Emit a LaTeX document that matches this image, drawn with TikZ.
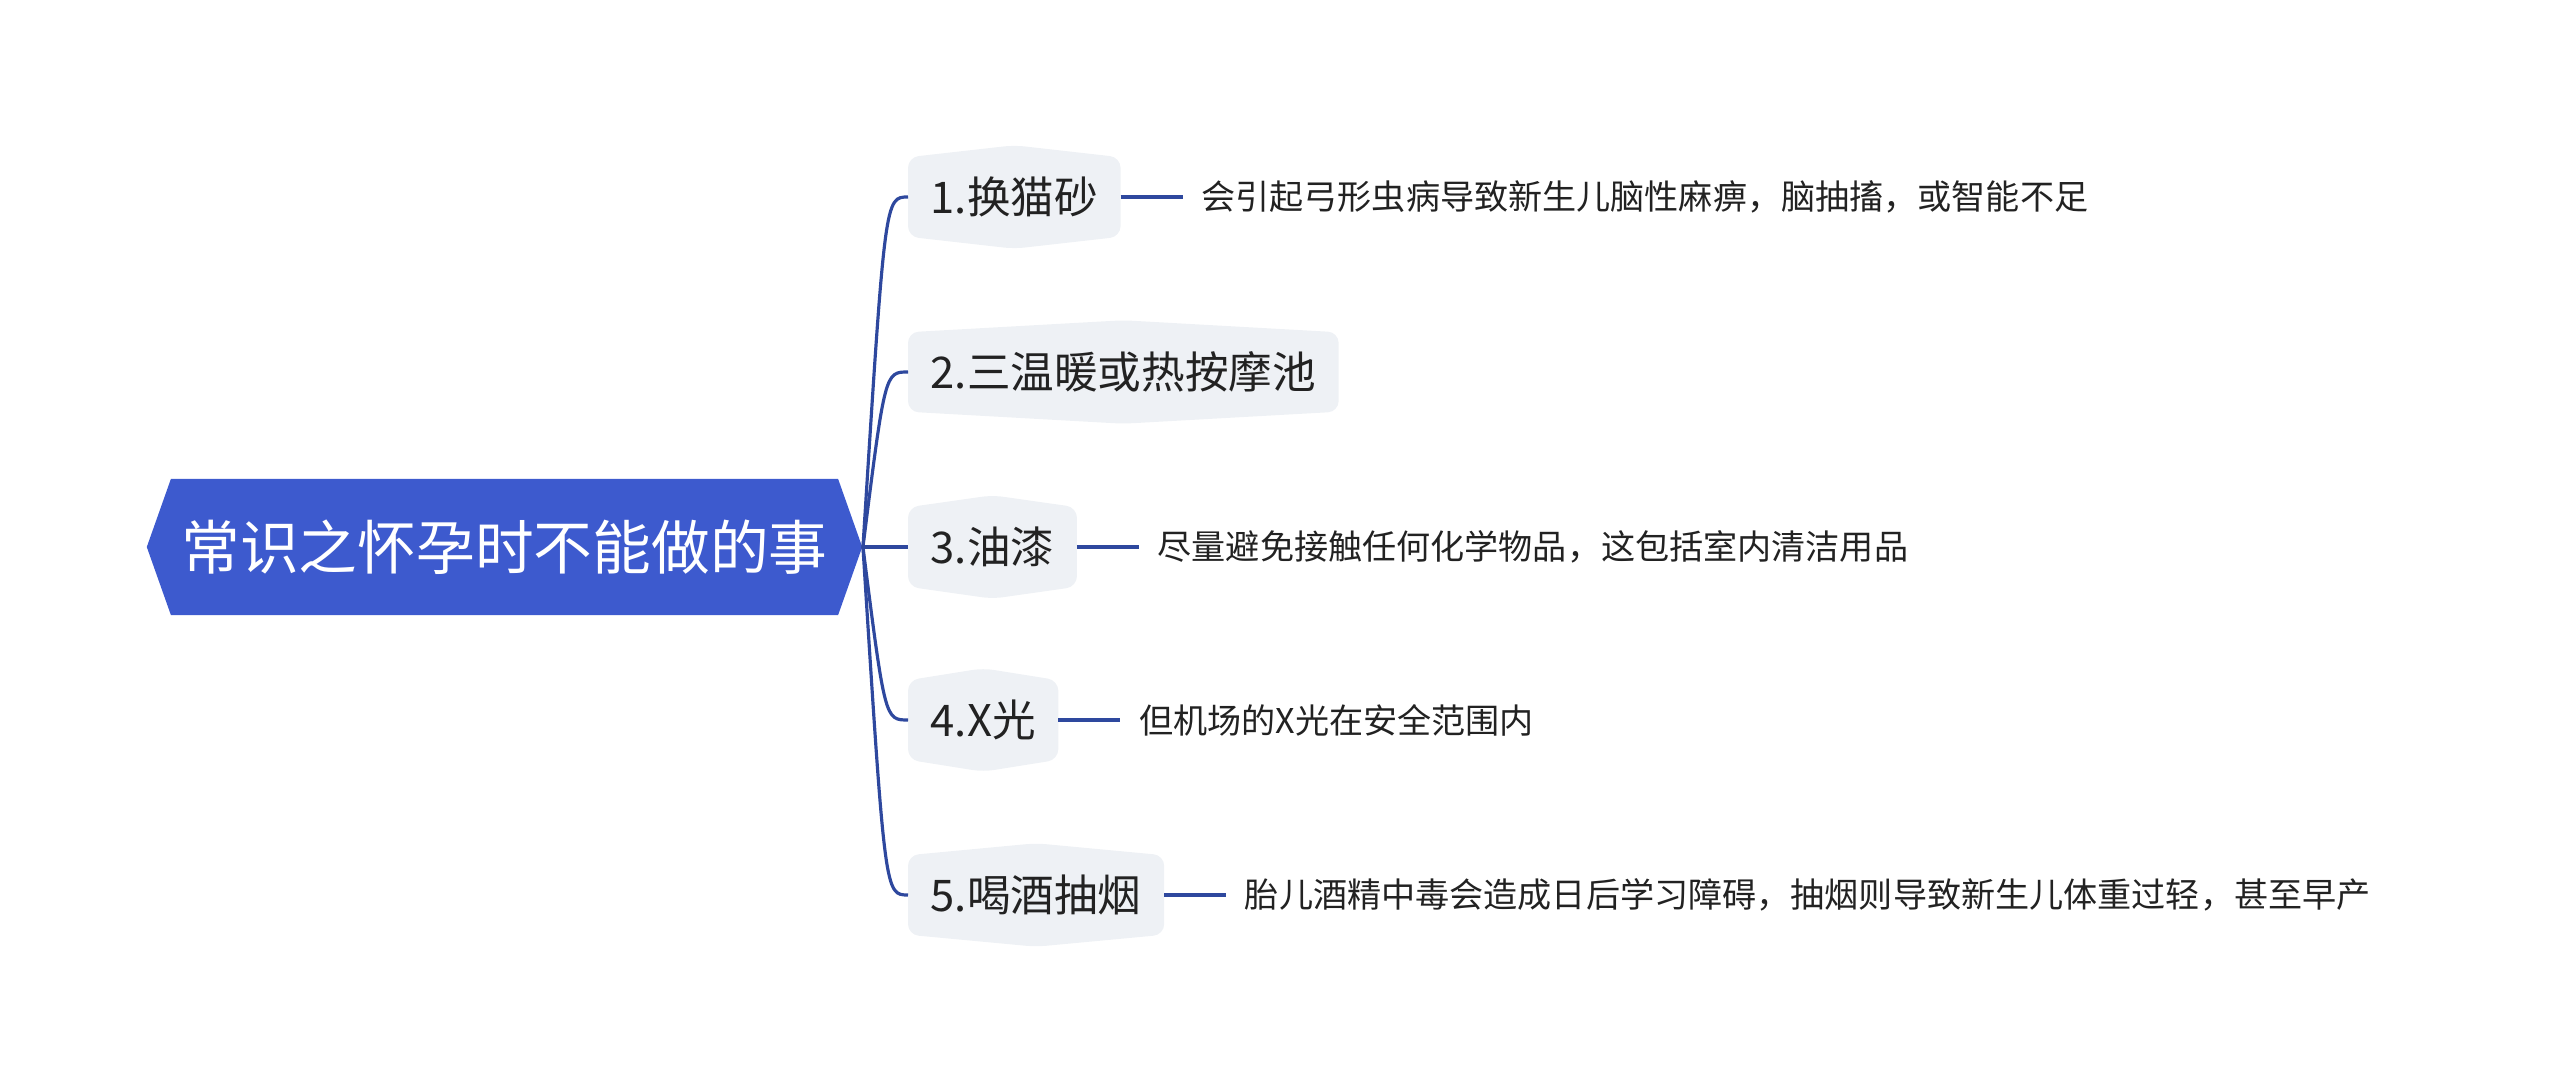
\documentclass[tikz,border=0pt]{standalone}
\usepackage{fontspec}
\setmainfont{Noto Sans CJK SC}
\usepackage{tikz}
\usetikzlibrary{positioning,shapes.symbols,backgrounds}

\definecolor{rootblue}{RGB}{61,90,206}
\definecolor{linkblue}{RGB}{46,72,158}
\definecolor{topicgray}{RGB}{238,241,245}
\definecolor{inkgray}{RGB}{34,34,34}

\begin{document}
\begin{tikzpicture}[x=0.01cm,y=-0.01cm,
  root/.style={shape=signal,signal to=west and east,signal pointer angle=141,
    fill=rootblue,text=white,inner sep=0pt,minimum width=7.15cm,minimum height=1.36cm,
    font=\fontsize{16.7}{20}\selectfont},
  topic/.style={anchor=west,inner xsep=0.22cm,inner ysep=0pt,minimum height=0.78cm,
    text=inkgray,font=\fontsize{12.4}{15}\selectfont},
  leaf/.style={inner xsep=0.18cm,inner ysep=0pt,text=inkgray,
    font=\fontsize{9.7}{12}\selectfont},
  link/.style={draw=linkblue,line width=0.9pt},
  topicbg/.style={fill=topicgray,rounded corners=3pt}]
\useasboundingbox (0,0) rectangle (2560,1092);

\path (504.5,547) node (root) [root] {常识之怀孕时不能做的事};

\path (908,197) node (b1) [topic] {1.换猫砂};
\path (908,372) node (b2) [topic] {2.三温暖或热按摩池};
\path (908,547) node (b3) [topic] {3.油漆};
\path (908,720) node (b4) [topic] {4.X光};
\path (908,895) node (b5) [topic] {5.喝酒抽烟};

\node (l1) [leaf,right=0.62cm of b1] {会引起弓形虫病导致新生儿脑性麻痹，脑抽搐，或智能不足};
\node (l3) [leaf,right=0.62cm of b3] {尽量避免接触任何化学物品，这包括室内清洁用品};
\node (l4) [leaf,right=0.62cm of b4] {但机场的X光在安全范围内};
\node (l5) [leaf,right=0.62cm of b5] {胎儿酒精中毒会造成日后学习障碍，抽烟则导致新生儿体重过轻，甚至早产};

% topic backgrounds with a flat peak on top and bottom
\begin{scope}[on background layer]
\foreach \b in {b1,b2,b3,b4,b5}
  \path [topicbg] (\b.north west) -- ([yshift=0.12cm]\b.north) -- (\b.north east)
    -- (\b.south east) -- ([yshift=-0.12cm]\b.south) -- (\b.south west) -- cycle;
\end{scope}

\coordinate (fan) at ([xshift=0.22cm]root.east);
\foreach \b in {b1,b2,b3,b4,b5}
  \draw [link] (root.east) .. controls (fan |- \b.west) .. (\b.west);

\draw [link] (b1.east) -- (l1.west);
\draw [link] (b3.east) -- (l3.west);
\draw [link] (b4.east) -- (l4.west);
\draw [link] (b5.east) -- (l5.west);
\end{tikzpicture}
\end{document}
